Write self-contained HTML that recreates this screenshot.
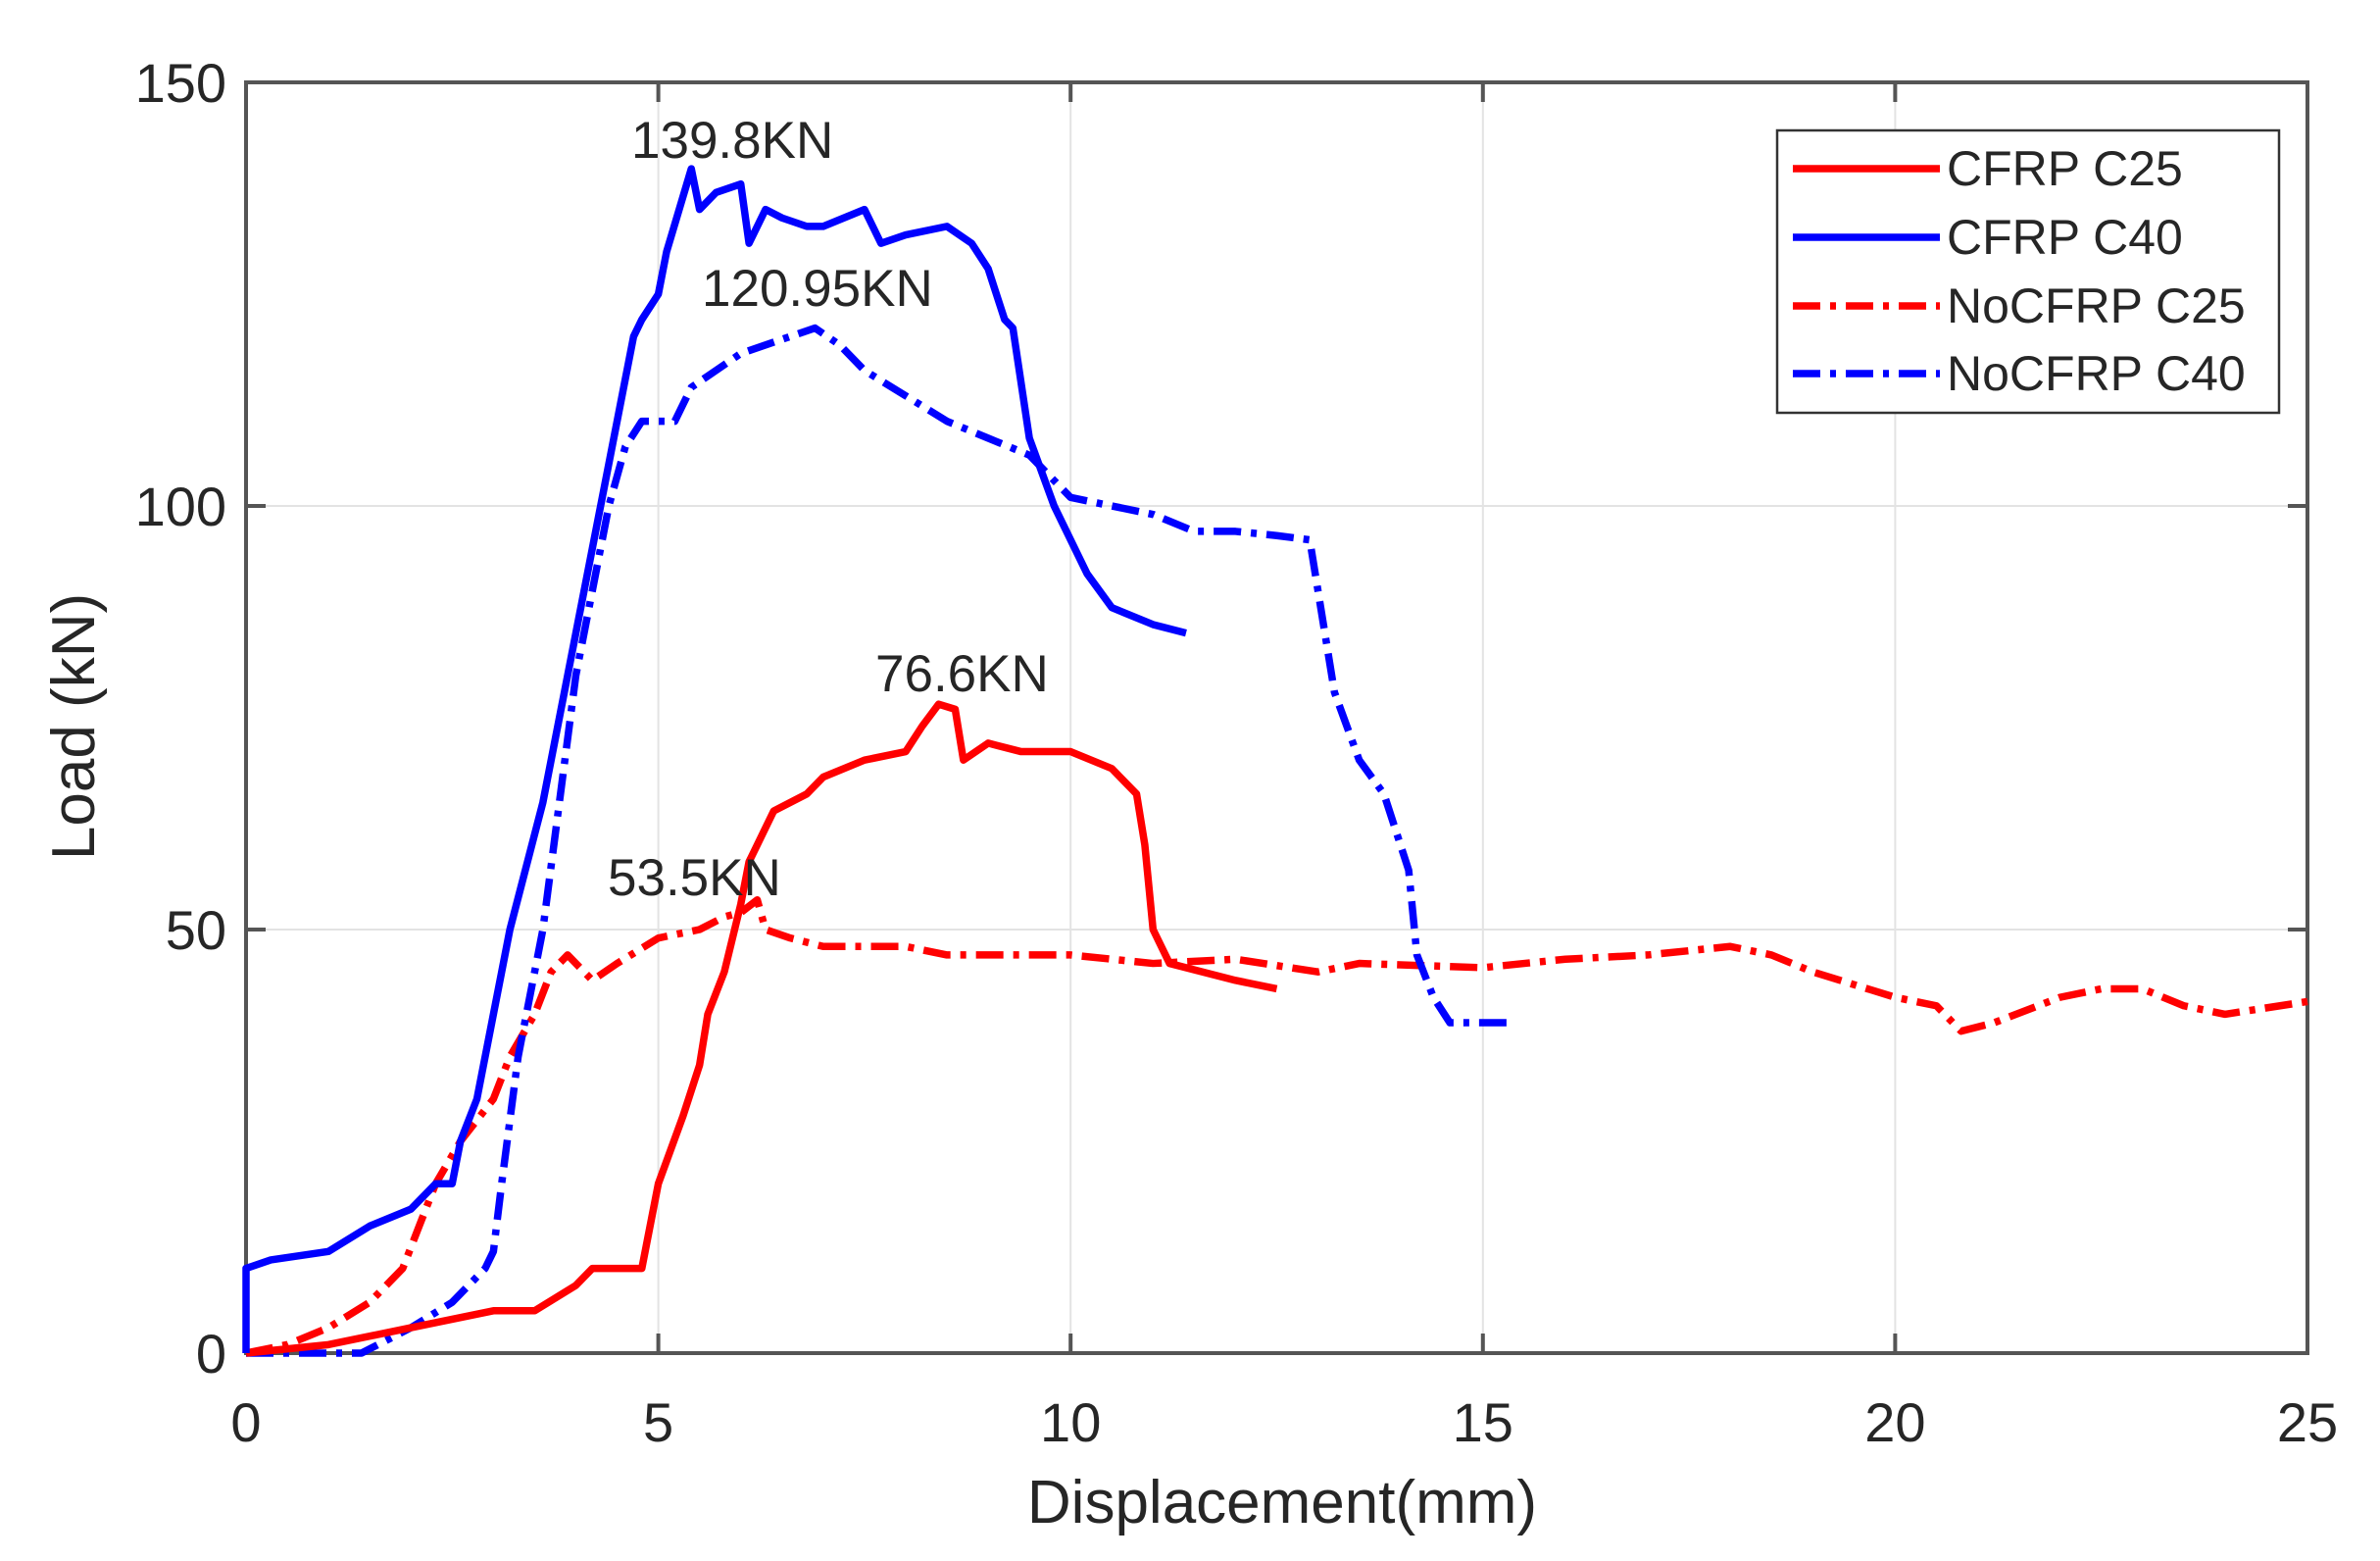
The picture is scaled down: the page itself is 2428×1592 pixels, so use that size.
<!DOCTYPE html>
<html><head><meta charset="utf-8"><style>
html,body{margin:0;padding:0;background:#fff}
svg{display:block}
text{font-family:"Liberation Sans",sans-serif;fill:#262626}
</style></head><body>
<svg width="2428" height="1592" viewBox="0 0 2428 1592" xmlns="http://www.w3.org/2000/svg">
<rect width="2428" height="1592" fill="#fff"/>
<g stroke="#e3e3e3" stroke-width="2">
<line x1="671.6" y1="84" x2="671.6" y2="1380"/>
<line x1="1092.2" y1="84" x2="1092.2" y2="1380"/>
<line x1="1512.8" y1="84" x2="1512.8" y2="1380"/>
<line x1="1933.4" y1="84" x2="1933.4" y2="1380"/>
<line x1="251" y1="516" x2="2354" y2="516"/>
<line x1="251" y1="948" x2="2354" y2="948"/>
</g>
<g stroke="#555" stroke-width="4" fill="none">
<rect x="251" y="84" width="2103" height="1296"/>
<path d="M671.6,1380v-20M1092.2,1380v-20M1512.8,1380v-20M1933.4,1380v-20M671.6,84v20M1092.2,84v20M1512.8,84v20M1933.4,84v20M251,516h20M251,948h20M2354,516h-20M2354,948h-20"/>
</g>
<g font-size="56" text-anchor="end" fill="#333">
<text x="231" y="104">150</text><text x="231" y="536">100</text><text x="231" y="968">50</text><text x="231" y="1400">0</text>
</g>
<g font-size="56" text-anchor="middle">
<text x="251" y="1470">0</text><text x="671.6" y="1470">5</text><text x="1092.2" y="1470">10</text><text x="1512.8" y="1470">15</text><text x="1933.4" y="1470">20</text><text x="2354" y="1470">25</text>
</g>
<text x="1308" y="1553" font-size="62" text-anchor="middle">Displacement(mm)</text>
<text transform="translate(96,741) rotate(-90)" font-size="62" text-anchor="middle">Load (kN)</text>
<g transform="translate(251,1380) scale(84.12,-8.64)" fill="none" stroke-width="7.5" stroke-linejoin="round">
<polyline vector-effect="non-scaling-stroke" stroke="#ff0000" stroke-dasharray="28,10,6,10" points="0,0 0.5,1 1,3 1.5,6 1.9,10 2.1,15 2.3,20 2.6,25 3,30 3.2,35 3.5,40 3.7,45 3.9,47 4.2,44 4.5,46 5,49 5.5,50 5.8,51.5 6,52 6.2,53.5 6.3,50 6.6,49 7,48 8,48 8.5,47 10,47 11,46 12,46.5 13,45 13.5,46 15,45.5 16,46.5 17,47 18,48 18.5,47 19,45 20,42 20.5,41 20.8,38 21.2,39 22,42 22.5,43 23,43 23.5,41 24,40 25,41.5"/>
<polyline vector-effect="non-scaling-stroke" stroke="#0000ff" stroke-dasharray="28,10,6,10" points="0,0 1.4,0 2,3 2.5,6 2.9,10 3,12 3.1,20 3.3,35 3.6,50 3.8,65 4,80 4.2,90 4.4,100 4.6,107 4.8,110 5.2,110 5.4,114 6,118 6.6,120 6.9,121 7.2,119 7.5,116 8,113 8.5,110 9,108 9.5,106 10,101 10.5,100 11,99 11.5,97 12,97 12.5,96.5 12.9,96 13,90 13.2,78 13.5,70 13.8,66 14.1,57 14.2,47 14.4,42 14.6,39 15.4,39"/>
<polyline vector-effect="non-scaling-stroke" stroke="#ff0000" points="0,0 1,1 2,3 3,5 3.5,5 4,8 4.2,10 4.8,10 4.9,15 5,20 5.3,28 5.5,34 5.6,40 5.8,45 6,53 6.1,58 6.2,60 6.4,64 6.8,66 7,68 7.5,70 8,71 8.2,74 8.4,76.6 8.6,76 8.7,70 9,72 9.4,71 10,71 10.5,69 10.8,66 10.9,60 11,50 11.2,46 11.6,45 12,44 12.5,43"/>
<polyline vector-effect="non-scaling-stroke" stroke="#0000ff" points="0,0 0,10 0.3,11 1,12 1.5,15 2,17 2.3,20 2.5,20 2.6,25 2.8,30 3,40 3.2,50 3.6,65 3.7,70 3.9,80 4,85 4.2,95 4.4,105 4.6,115 4.7,120 4.8,122 5,125 5.1,130 5.4,139.8 5.5,135 5.7,137 6,138 6.1,131 6.3,135 6.5,134 6.8,133 7,133 7.5,135 7.7,131 8,132 8.5,133 8.8,131 9,128 9.2,122 9.3,121 9.5,108 9.8,100 10.2,92 10.5,88 11,86 11.4,85"/>
</g>
<g font-size="53" fill="#111">
<text x="644" y="161">139.8KN</text>
<text x="716" y="312">120.95KN</text>
<text x="893" y="705">76.6KN</text>
<text x="620" y="913">53.5KN</text>
</g>
<rect x="1813" y="133" width="512" height="288" fill="#fff" stroke="#333" stroke-width="2.5"/>
<g stroke-width="7.5" fill="none">
<line x1="1829" y1="172" x2="1979" y2="172" stroke="#ff0000"/>
<line x1="1829" y1="242" x2="1979" y2="242" stroke="#0000ff"/>
<line x1="1829" y1="312" x2="1979" y2="312" stroke="#ff0000" stroke-dasharray="28,10,6,10"/>
<line x1="1829" y1="381" x2="1979" y2="381" stroke="#0000ff" stroke-dasharray="28,10,6,10"/>
</g>
<g font-size="50">
<text x="1986" y="189">CFRP C25</text>
<text x="1986" y="259">CFRP C40</text>
<text x="1986" y="329">NoCFRP C25</text>
<text x="1986" y="398">NoCFRP C40</text>
</g>
</svg>
</body></html>
